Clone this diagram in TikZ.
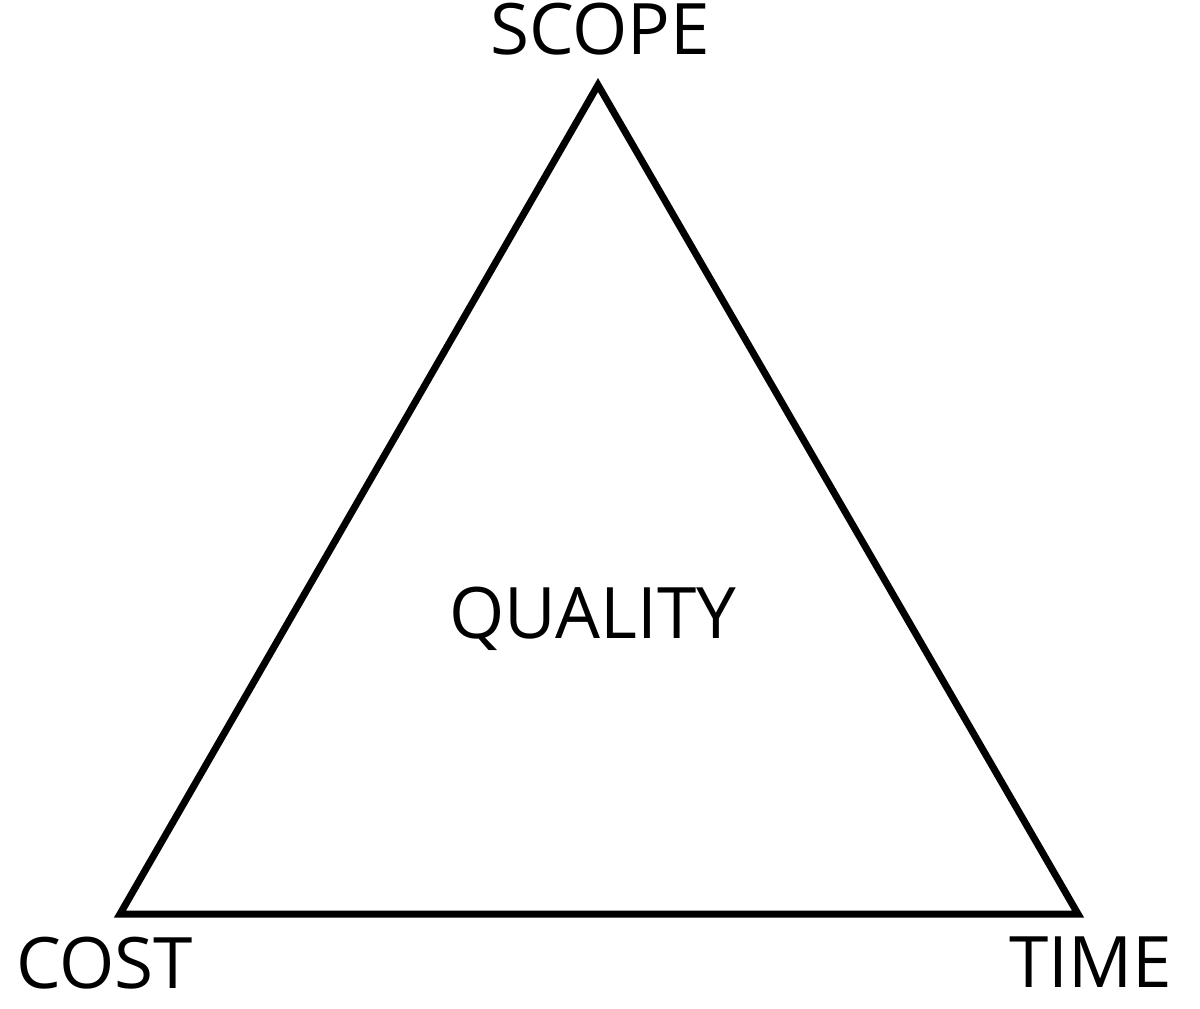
\documentclass[tikz,border=0pt]{standalone}
\usepackage{fontspec}
\setmainfont{Open Sans}
\begin{document}
\begin{tikzpicture}[x=1pt,y=-1pt,
  lbl/.style={inner sep=0pt,font=\fontsize{71}{80}\selectfont},
  edge/.style={line width=7pt,line join=miter}]
\useasboundingbox (0,0) rectangle (1200,1009);
\coordinate (s) at (598,85);
\coordinate (c) at (120,914);
\coordinate (t) at (1078,914);
\draw[edge] (s) -- (c) -- (t) -- cycle;
\node[lbl,anchor=base] (scope) at (600,54) {SCOPE};
\node[lbl,anchor=base west] (cost) at (16,988) {COST};
\node[lbl,anchor=base east] (time) at (1172,987) {TIME};
\node[lbl,anchor=base] (quality) at (593,638) {QUALITY};
\end{tikzpicture}
\end{document}
